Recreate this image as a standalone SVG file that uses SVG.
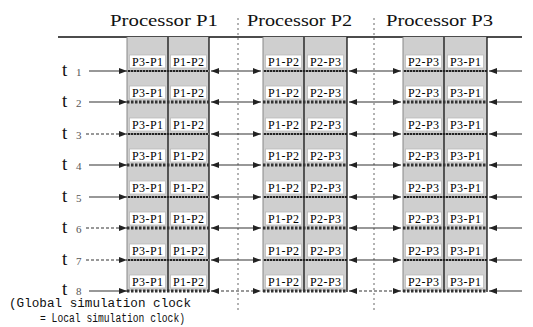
<svg xmlns="http://www.w3.org/2000/svg" width="533" height="327" viewBox="0 0 533 327">
<style>
.hdr{font-family:'Liberation Serif','DejaVu Serif',serif;font-size:17px;fill:#111}
.cell{font-family:'Liberation Serif','DejaVu Serif',serif;font-size:12px;fill:#000;text-anchor:middle}
.box{fill:#fff;stroke:#bbb;stroke-width:0.8}
.col{fill:#cfcfcf}
.tl{font-family:'Liberation Serif','DejaVu Serif',serif;font-size:19px;fill:#111}
.tn{font-family:'Liberation Serif','DejaVu Serif',serif;font-size:11px;fill:#555}
.foot{font-family:'Liberation Mono','DejaVu Sans Mono',monospace;font-size:12.5px;fill:#111}
.arr{stroke:#333;stroke-width:1.2;fill:none;marker-end:url(#ah)}
.arr2{stroke:#333;stroke-width:1.2;fill:none;marker-end:url(#ah);marker-start:url(#ah)}
.dsh{stroke-dasharray:3 2}
.rdot{stroke:#222;stroke-width:2}
.rdotw{stroke:#fff;stroke-width:1;stroke-dasharray:1 2}
.rhat{stroke:#333;stroke-width:3;stroke-dasharray:2.5 1.5}
.sep{stroke:#666;stroke-width:1;stroke-dasharray:2 3}
.vb{stroke:#111;stroke-width:1.3}
.vg{stroke:#888;stroke-width:1}
</style>
<defs>
<marker id="ah" markerUnits="userSpaceOnUse" markerWidth="9" markerHeight="7" refX="8" refY="3" orient="auto-start-reverse"><path d="M0,0 L8,3 L0,6 z" fill="#222"/></marker>
</defs>
<rect width="533" height="327" fill="#fff"/>
<g id="headers" font-family="Liberation Serif, serif">
<text class="hdr" x="110" y="26" textLength="108" lengthAdjust="spacingAndGlyphs">Processor P1</text>
<text class="hdr" x="247" y="26" textLength="105" lengthAdjust="spacingAndGlyphs">Processor P2</text>
<text class="hdr" x="386" y="26" textLength="107" lengthAdjust="spacingAndGlyphs">Processor P3</text>
</g>
<line x1="58" y1="37" x2="522" y2="37" stroke="#111" stroke-width="1.5"/>
<line class="sep" x1="238" y1="18" x2="238" y2="311"/>
<line class="sep" x1="374" y1="18" x2="374" y2="311"/>
<g id="processor-P1">
<rect class="col" x="127" y="37" width="82" height="254"/>
<line class="vg" x1="127" y1="37" x2="127" y2="292"/>
<line class="vb" x1="168" y1="37" x2="168" y2="292"/>
<line class="vb" x1="209" y1="37" x2="209" y2="292"/>
</g>
<g id="processor-P2">
<rect class="col" x="263" y="37" width="84" height="254"/>
<line class="vg" x1="263" y1="37" x2="263" y2="292"/>
<line class="vb" x1="304" y1="37" x2="304" y2="292"/>
<line class="vb" x1="347" y1="37" x2="347" y2="292"/>
</g>
<g id="processor-P3">
<rect class="col" x="403" y="37" width="84" height="254"/>
<line class="vg" x1="403" y1="37" x2="403" y2="292"/>
<line class="vb" x1="444" y1="37" x2="444" y2="292"/>
<line class="vb" x1="487" y1="37" x2="487" y2="292"/>
</g>
<g id="row-lines">
<g><line class="rdot" x1="127" y1="71" x2="209" y2="71"/><line class="rdotw" x1="127" y1="71" x2="209" y2="71"/><line class="rdot" x1="263" y1="71" x2="347" y2="71"/><line class="rdotw" x1="263" y1="71" x2="347" y2="71"/><line class="rdot" x1="403" y1="71" x2="487" y2="71"/><line class="rdotw" x1="403" y1="71" x2="487" y2="71"/></g>
<g><line class="rhat" x1="127" y1="102" x2="209" y2="102"/><line class="rhat" x1="263" y1="102" x2="347" y2="102"/><line class="rhat" x1="403" y1="102" x2="487" y2="102"/></g>
<g><line class="rdot" x1="127" y1="134" x2="209" y2="134"/><line class="rdotw" x1="127" y1="134" x2="209" y2="134"/><line class="rdot" x1="263" y1="134" x2="347" y2="134"/><line class="rdotw" x1="263" y1="134" x2="347" y2="134"/><line class="rdot" x1="403" y1="134" x2="487" y2="134"/><line class="rdotw" x1="403" y1="134" x2="487" y2="134"/></g>
<g><line class="rhat" x1="127" y1="165" x2="209" y2="165"/><line class="rhat" x1="263" y1="165" x2="347" y2="165"/><line class="rhat" x1="403" y1="165" x2="487" y2="165"/></g>
<g><line class="rdot" x1="127" y1="197" x2="209" y2="197"/><line class="rdotw" x1="127" y1="197" x2="209" y2="197"/><line class="rdot" x1="263" y1="197" x2="347" y2="197"/><line class="rdotw" x1="263" y1="197" x2="347" y2="197"/><line class="rdot" x1="403" y1="197" x2="487" y2="197"/><line class="rdotw" x1="403" y1="197" x2="487" y2="197"/></g>
<g><line class="rhat" x1="127" y1="228" x2="209" y2="228"/><line class="rhat" x1="263" y1="228" x2="347" y2="228"/><line class="rhat" x1="403" y1="228" x2="487" y2="228"/></g>
<g><line class="rdot" x1="127" y1="260" x2="209" y2="260"/><line class="rdotw" x1="127" y1="260" x2="209" y2="260"/><line class="rdot" x1="263" y1="260" x2="347" y2="260"/><line class="rdotw" x1="263" y1="260" x2="347" y2="260"/><line class="rdot" x1="403" y1="260" x2="487" y2="260"/><line class="rdotw" x1="403" y1="260" x2="487" y2="260"/></g>
<g><line class="rhat" x1="127" y1="291" x2="209" y2="291"/><line class="rhat" x1="263" y1="291" x2="347" y2="291"/><line class="rhat" x1="403" y1="291" x2="487" y2="291"/></g>
</g>
<g id="cell-labels">
<g id="labels-t1">
<rect class="box" x="129.5" y="55" width="36" height="13"/><text class="cell" x="147.5" y="65.5" textLength="31">P3-P1</text>
<rect class="box" x="170.5" y="55" width="36" height="13"/><text class="cell" x="188.5" y="65.5" textLength="31">P1-P2</text>
<rect class="box" x="265.5" y="55" width="36" height="13"/><text class="cell" x="283.5" y="65.5" textLength="31">P1-P2</text>
<rect class="box" x="307.5" y="55" width="36" height="13"/><text class="cell" x="325.5" y="65.5" textLength="31">P2-P3</text>
<rect class="box" x="405.5" y="55" width="36" height="13"/><text class="cell" x="423.5" y="65.5" textLength="31">P2-P3</text>
<rect class="box" x="447.5" y="55" width="36" height="13"/><text class="cell" x="465.5" y="65.5" textLength="31">P3-P1</text>
</g>
<g id="labels-t2">
<rect class="box" x="129.5" y="86" width="36" height="13"/><text class="cell" x="147.5" y="96.5" textLength="31">P3-P1</text>
<rect class="box" x="170.5" y="86" width="36" height="13"/><text class="cell" x="188.5" y="96.5" textLength="31">P1-P2</text>
<rect class="box" x="265.5" y="86" width="36" height="13"/><text class="cell" x="283.5" y="96.5" textLength="31">P1-P2</text>
<rect class="box" x="307.5" y="86" width="36" height="13"/><text class="cell" x="325.5" y="96.5" textLength="31">P2-P3</text>
<rect class="box" x="405.5" y="86" width="36" height="13"/><text class="cell" x="423.5" y="96.5" textLength="31">P2-P3</text>
<rect class="box" x="447.5" y="86" width="36" height="13"/><text class="cell" x="465.5" y="96.5" textLength="31">P3-P1</text>
</g>
<g id="labels-t3">
<rect class="box" x="129.5" y="118" width="36" height="13"/><text class="cell" x="147.5" y="128.5" textLength="31">P3-P1</text>
<rect class="box" x="170.5" y="118" width="36" height="13"/><text class="cell" x="188.5" y="128.5" textLength="31">P1-P2</text>
<rect class="box" x="265.5" y="118" width="36" height="13"/><text class="cell" x="283.5" y="128.5" textLength="31">P1-P2</text>
<rect class="box" x="307.5" y="118" width="36" height="13"/><text class="cell" x="325.5" y="128.5" textLength="31">P2-P3</text>
<rect class="box" x="405.5" y="118" width="36" height="13"/><text class="cell" x="423.5" y="128.5" textLength="31">P2-P3</text>
<rect class="box" x="447.5" y="118" width="36" height="13"/><text class="cell" x="465.5" y="128.5" textLength="31">P3-P1</text>
</g>
<g id="labels-t4">
<rect class="box" x="129.5" y="149" width="36" height="13"/><text class="cell" x="147.5" y="159.5" textLength="31">P3-P1</text>
<rect class="box" x="170.5" y="149" width="36" height="13"/><text class="cell" x="188.5" y="159.5" textLength="31">P1-P2</text>
<rect class="box" x="265.5" y="149" width="36" height="13"/><text class="cell" x="283.5" y="159.5" textLength="31">P1-P2</text>
<rect class="box" x="307.5" y="149" width="36" height="13"/><text class="cell" x="325.5" y="159.5" textLength="31">P2-P3</text>
<rect class="box" x="405.5" y="149" width="36" height="13"/><text class="cell" x="423.5" y="159.5" textLength="31">P2-P3</text>
<rect class="box" x="447.5" y="149" width="36" height="13"/><text class="cell" x="465.5" y="159.5" textLength="31">P3-P1</text>
</g>
<g id="labels-t5">
<rect class="box" x="129.5" y="181" width="36" height="13"/><text class="cell" x="147.5" y="191.5" textLength="31">P3-P1</text>
<rect class="box" x="170.5" y="181" width="36" height="13"/><text class="cell" x="188.5" y="191.5" textLength="31">P1-P2</text>
<rect class="box" x="265.5" y="181" width="36" height="13"/><text class="cell" x="283.5" y="191.5" textLength="31">P1-P2</text>
<rect class="box" x="307.5" y="181" width="36" height="13"/><text class="cell" x="325.5" y="191.5" textLength="31">P2-P3</text>
<rect class="box" x="405.5" y="181" width="36" height="13"/><text class="cell" x="423.5" y="191.5" textLength="31">P2-P3</text>
<rect class="box" x="447.5" y="181" width="36" height="13"/><text class="cell" x="465.5" y="191.5" textLength="31">P3-P1</text>
</g>
<g id="labels-t6">
<rect class="box" x="129.5" y="212" width="36" height="13"/><text class="cell" x="147.5" y="222.5" textLength="31">P3-P1</text>
<rect class="box" x="170.5" y="212" width="36" height="13"/><text class="cell" x="188.5" y="222.5" textLength="31">P1-P2</text>
<rect class="box" x="265.5" y="212" width="36" height="13"/><text class="cell" x="283.5" y="222.5" textLength="31">P1-P2</text>
<rect class="box" x="307.5" y="212" width="36" height="13"/><text class="cell" x="325.5" y="222.5" textLength="31">P2-P3</text>
<rect class="box" x="405.5" y="212" width="36" height="13"/><text class="cell" x="423.5" y="222.5" textLength="31">P2-P3</text>
<rect class="box" x="447.5" y="212" width="36" height="13"/><text class="cell" x="465.5" y="222.5" textLength="31">P3-P1</text>
</g>
<g id="labels-t7">
<rect class="box" x="129.5" y="244" width="36" height="13"/><text class="cell" x="147.5" y="254.5" textLength="31">P3-P1</text>
<rect class="box" x="170.5" y="244" width="36" height="13"/><text class="cell" x="188.5" y="254.5" textLength="31">P1-P2</text>
<rect class="box" x="265.5" y="244" width="36" height="13"/><text class="cell" x="283.5" y="254.5" textLength="31">P1-P2</text>
<rect class="box" x="307.5" y="244" width="36" height="13"/><text class="cell" x="325.5" y="254.5" textLength="31">P2-P3</text>
<rect class="box" x="405.5" y="244" width="36" height="13"/><text class="cell" x="423.5" y="254.5" textLength="31">P2-P3</text>
<rect class="box" x="447.5" y="244" width="36" height="13"/><text class="cell" x="465.5" y="254.5" textLength="31">P3-P1</text>
</g>
<g id="labels-t8">
<rect class="box" x="129.5" y="275" width="36" height="13"/><text class="cell" x="147.5" y="285.5" textLength="31">P3-P1</text>
<rect class="box" x="170.5" y="275" width="36" height="13"/><text class="cell" x="188.5" y="285.5" textLength="31">P1-P2</text>
<rect class="box" x="265.5" y="275" width="36" height="13"/><text class="cell" x="283.5" y="285.5" textLength="31">P1-P2</text>
<rect class="box" x="307.5" y="275" width="36" height="13"/><text class="cell" x="325.5" y="285.5" textLength="31">P2-P3</text>
<rect class="box" x="405.5" y="275" width="36" height="13"/><text class="cell" x="423.5" y="285.5" textLength="31">P2-P3</text>
<rect class="box" x="447.5" y="275" width="36" height="13"/><text class="cell" x="465.5" y="285.5" textLength="31">P3-P1</text>
</g>
</g>
<g id="time-labels">
<text x="62" y="76"><tspan class="tl">t</tspan><tspan class="tn" x="76">1</tspan></text>
<text x="62" y="107"><tspan class="tl">t</tspan><tspan class="tn" x="76">2</tspan></text>
<text x="62" y="139"><tspan class="tl">t</tspan><tspan class="tn" x="76">3</tspan></text>
<text x="62" y="170"><tspan class="tl">t</tspan><tspan class="tn" x="76">4</tspan></text>
<text x="62" y="202"><tspan class="tl">t</tspan><tspan class="tn" x="76">5</tspan></text>
<text x="62" y="233"><tspan class="tl">t</tspan><tspan class="tn" x="76">6</tspan></text>
<text x="62" y="265"><tspan class="tl">t</tspan><tspan class="tn" x="76">7</tspan></text>
<text x="62" y="295"><tspan class="tl">t</tspan><tspan class="tn" x="76">8</tspan></text>
</g>
<g id="connectors">
<line class="arr" x1="89" y1="71" x2="127" y2="71"/>
<line class="arr2" x1="211" y1="71" x2="261" y2="71"/>
<line class="arr2" x1="349" y1="71" x2="401" y2="71"/>
<line class="arr" x1="522" y1="71" x2="489" y2="71"/>
<line class="arr" x1="89" y1="102" x2="127" y2="102"/>
<line class="arr2" x1="211" y1="102" x2="261" y2="102"/>
<line class="arr2" x1="349" y1="102" x2="401" y2="102"/>
<line class="arr" x1="522" y1="102" x2="489" y2="102"/>
<line class="arr dsh" x1="86" y1="134" x2="127" y2="134"/>
<line class="arr2" x1="211" y1="134" x2="261" y2="134"/>
<line class="arr2" x1="349" y1="134" x2="401" y2="134"/>
<line class="arr" x1="522" y1="134" x2="489" y2="134"/>
<line class="arr" x1="89" y1="165" x2="127" y2="165"/>
<line class="arr2" x1="211" y1="165" x2="261" y2="165"/>
<line class="arr2" x1="349" y1="165" x2="401" y2="165"/>
<line class="arr" x1="522" y1="165" x2="489" y2="165"/>
<line class="arr" x1="89" y1="197" x2="127" y2="197"/>
<line class="arr2" x1="211" y1="197" x2="261" y2="197"/>
<line class="arr2" x1="349" y1="197" x2="401" y2="197"/>
<line class="arr" x1="522" y1="197" x2="489" y2="197"/>
<line class="arr dsh" x1="86" y1="228" x2="127" y2="228"/>
<line class="arr2" x1="211" y1="228" x2="261" y2="228"/>
<line class="arr2" x1="349" y1="228" x2="401" y2="228"/>
<line class="arr" x1="522" y1="228" x2="489" y2="228"/>
<line class="arr dsh" x1="86" y1="260" x2="127" y2="260"/>
<line class="arr2" x1="211" y1="260" x2="261" y2="260"/>
<line class="arr2" x1="349" y1="260" x2="401" y2="260"/>
<line class="arr" x1="522" y1="260" x2="489" y2="260"/>
<line class="arr" x1="89" y1="291" x2="127" y2="291"/>
<line class="arr2 dsh" x1="211" y1="291" x2="261" y2="291"/>
<line class="arr2 dsh" x1="349" y1="291" x2="401" y2="291"/>
<line class="arr" x1="522" y1="291" x2="489" y2="291"/>
</g>
<g id="footnote">
<text class="foot" x="9" y="307" textLength="182" lengthAdjust="spacingAndGlyphs">(Global simulation clock</text>
<text class="foot" x="40" y="322" textLength="145" lengthAdjust="spacingAndGlyphs">= Local simulation clock)</text>
</g>
</svg>
